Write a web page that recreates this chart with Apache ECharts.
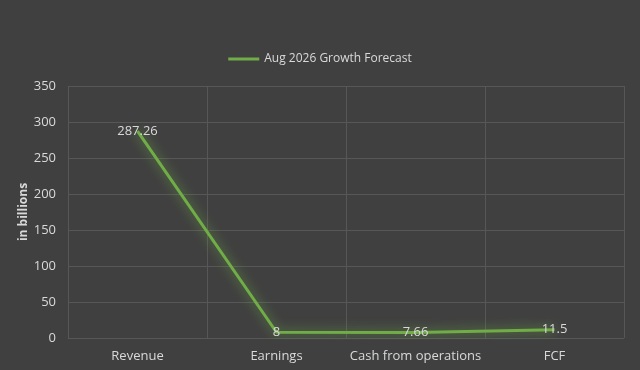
<!DOCTYPE html>
<html><head><meta charset="utf-8">
<script src="https://cdn.jsdelivr.net/npm/echarts@6/dist/echarts.min.js"></script>
<style>html,body{margin:0;padding:0;background:#404040;}#c{width:640px;height:370px;}</style>
</head><body><div id="c"></div>
<script>
const categories = ['Revenue', 'Earnings', 'Cash from operations', 'FCF'];
const forecast = [287.26, 8, 7.66, 11.5];
const seriesName = 'Aug 2026 Growth Forecast';
const yTicks = { min: 0, max: 350, interval: 50 };

const chart = echarts.init(document.getElementById('c'), null, { renderer: 'canvas' });
chart.setOption({
  backgroundColor: '#404040',
  textStyle: { fontFamily: 'Open Sans, Lato, sans-serif' },
  legend: {
    top: 48, left: 'center',
    itemWidth: 31, itemHeight: 3, icon: 'rect', itemGap: 4,
    itemStyle: { color: '#70ad47', opacity: 1 },
    textStyle: { color: '#d9d9d9', fontSize: 12 },
    data: [seriesName]
  },
  grid: { left: 68, right: 16, top: 86, bottom: 32 },
  xAxis: {
    type: 'category', data: categories, boundaryGap: true,
    axisLine: { show: false }, axisTick: { show: false },
    axisLabel: { color: '#d9d9d9', fontSize: 13, margin: 12, interval: 0 },
    splitLine: { show: true, interval: 0, lineStyle: { color: '#575757', width: 1 } }
  },
  yAxis: {
    type: 'value', min: yTicks.min, max: yTicks.max, interval: yTicks.interval,
    name: 'in billions', nameLocation: 'middle', nameGap: 38, nameRotate: 90,
    nameMoveOverlap: false,
    nameTextStyle: { color: '#d9d9d9', fontSize: 12, fontWeight: 'bold' },
    axisLine: { show: false }, axisTick: { show: false },
    axisLabel: { color: '#d9d9d9', fontSize: 13, margin: 12 },
    splitLine: { lineStyle: { color: '#575757', width: 1 } }
  },
  series: [{
    name: seriesName, type: 'line', data: forecast,
    symbol: 'circle', symbolSize: 0, showSymbol: true,
    itemStyle: { color: '#70ad47' },
    lineStyle: { color: '#70ad47', width: 3, shadowColor: 'rgba(112,173,71,0.9)', shadowBlur: 12 },
    label: { show: true, position: 'inside', color: '#d9d9d9', fontSize: 13 },
    emphasis: { disabled: true },
    animation: false
  }],
  animation: false
});
</script></body></html>
